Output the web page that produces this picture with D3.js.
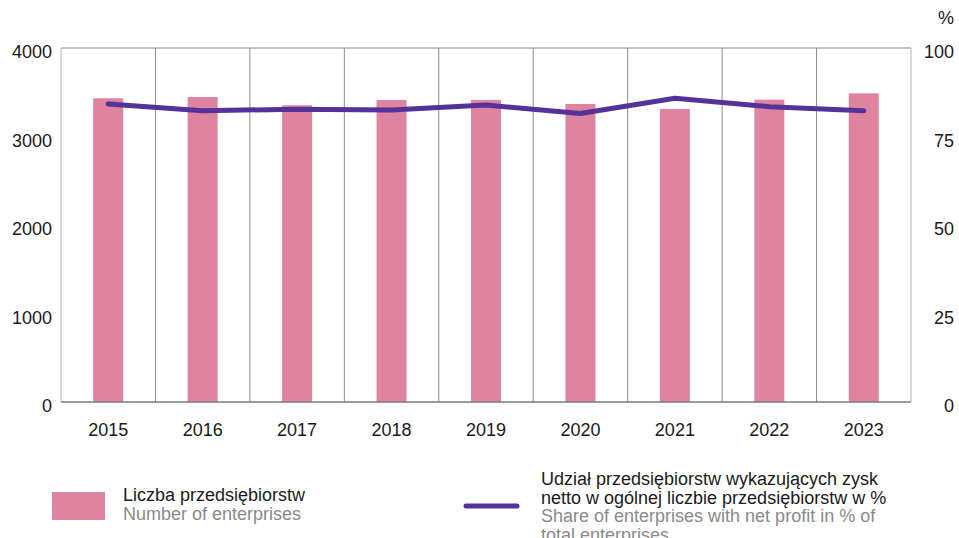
<!DOCTYPE html>
<html>
<head>
<meta charset="utf-8">
<script src="https://cdn.jsdelivr.net/npm/d3@7"></script>
<style>
  body { margin: 0; background: #fff; }
  svg text { font-family: "Liberation Sans", Arial, sans-serif; }
</style>
</head>
<body>
<div id="chart"></div>
<script>
/* DATA */
const years = ["2015", "2016", "2017", "2018", "2019", "2020", "2021", "2022", "2023"];
const enterprises = [3432, 3446, 3353, 3412, 3412, 3367, 3311, 3416, 3488];
const profitShare = [84.2, 82.3, 82.7, 82.5, 83.9, 81.5, 85.8, 83.4, 82.3];
const leftTicks = [0, 1000, 2000, 3000, 4000];
const rightTicks = [0, 25, 50, 75, 100];

/* CONSTANTS */
const width = 959, height = 538;
const margin = { top: 48, left: 61, right: 48, bottom: 136 };
const barColor = "#de84a1", lineColor = "#55319a";
const fs = 18;

const svg = d3.select("#chart").append("svg")
  .attr("width", width)
  .attr("height", height);

const x = d3.scaleBand()
  .domain(years)
  .range([margin.left, width - margin.right]);

const yLeft = d3.scaleLinear().domain([0, 4000]).range([height - margin.bottom, margin.top]);
const yRight = d3.scaleLinear().domain([0, 100]).range([height - margin.bottom, margin.top]);

// grid: vertical lines at category edges, top border
const edges = years.map(d => x(d)).concat([x.range()[1]]);
svg.selectAll("line.vgrid")
  .data(edges)
  .join("line")
  .attr("class", "vgrid")
  .attr("x1", d => d).attr("x2", d => d)
  .attr("y1", yLeft(4000)).attr("y2", yLeft(0))
  .attr("stroke", (d, i) => (i === 0 || i === edges.length - 1) ? "#b5b5b5" : "#8c8c8c")
  .attr("stroke-width", 1);

svg.append("line")
  .attr("x1", x.range()[0]).attr("x2", x.range()[1])
  .attr("y1", yLeft(4000)).attr("y2", yLeft(4000))
  .attr("stroke", "#8c8c8c");

// bars
const barW = 30;
svg.selectAll("rect.bar")
  .data(enterprises)
  .join("rect")
  .attr("class", "bar")
  .attr("x", (d, i) => x(years[i]) + x.bandwidth() / 2 - barW / 2)
  .attr("width", barW)
  .attr("y", d => yLeft(d))
  .attr("height", d => yLeft(0) - yLeft(d))
  .attr("fill", barColor);

// baseline
svg.append("line")
  .attr("x1", x.range()[0]).attr("x2", x.range()[1])
  .attr("y1", yLeft(0)).attr("y2", yLeft(0))
  .attr("stroke", "#7a7a7a")
  .attr("stroke-width", 1.5);

// line
const line = d3.line()
  .x((d, i) => x(years[i]) + x.bandwidth() / 2)
  .y(d => yRight(d));

svg.append("path")
  .datum(profitShare)
  .attr("d", line)
  .attr("fill", "none")
  .attr("stroke", lineColor)
  .attr("stroke-width", 5)
  .attr("stroke-linecap", "round")
  .attr("stroke-linejoin", "round");

// axes labels
svg.selectAll("text.yl")
  .data(leftTicks)
  .join("text")
  .attr("class", "yl")
  .attr("x", 52)
  .attr("y", d => yLeft(d) + 10)
  .attr("text-anchor", "end")
  .attr("font-size", fs)
  .attr("fill", "#1a1a1a")
  .text(d => d);

svg.selectAll("text.yr")
  .data(rightTicks)
  .join("text")
  .attr("class", "yr")
  .attr("x", 954)
  .attr("y", d => yRight(d) + 10)
  .attr("text-anchor", "end")
  .attr("font-size", fs)
  .attr("fill", "#1a1a1a")
  .text(d => d);

svg.append("text")
  .attr("x", 954).attr("y", 24)
  .attr("text-anchor", "end")
  .attr("font-size", fs)
  .attr("fill", "#1a1a1a")
  .text("%");

svg.selectAll("text.xl")
  .data(years)
  .join("text")
  .attr("class", "xl")
  .attr("x", d => x(d) + x.bandwidth() / 2)
  .attr("y", 436)
  .attr("text-anchor", "middle")
  .attr("font-size", fs)
  .attr("fill", "#1a1a1a")
  .text(d => d);

// legend
svg.append("rect")
  .attr("x", 52).attr("y", 492)
  .attr("width", 53).attr("height", 28)
  .attr("fill", barColor);

svg.append("text").attr("x", 123).attr("y", 501)
  .attr("font-size", fs).attr("fill", "#1a1a1a")
  .text("Liczba przedsiębiorstw");
svg.append("text").attr("x", 123).attr("y", 520)
  .attr("font-size", fs).attr("fill", "#8a8a8a")
  .text("Number of enterprises");

svg.append("line")
  .attr("x1", 466).attr("x2", 517)
  .attr("y1", 506).attr("y2", 506)
  .attr("stroke", lineColor)
  .attr("stroke-width", 5)
  .attr("stroke-linecap", "round");

const legendLines = [
  ["Udział przedsiębiorstw wykazujących zysk", "#1a1a1a"],
  ["netto w ogólnej liczbie przedsiębiorstw w %", "#1a1a1a"],
  ["Share of enterprises with net profit in % of", "#8a8a8a"],
  ["total enterprises", "#8a8a8a"]
];
svg.selectAll("text.lg")
  .data(legendLines)
  .join("text")
  .attr("class", "lg")
  .attr("x", 541)
  .attr("y", (d, i) => 485 + i * 18.7)
  .attr("font-size", fs)
  .attr("fill", d => d[1])
  .text(d => d[0]);
</script>
</body>
</html>
